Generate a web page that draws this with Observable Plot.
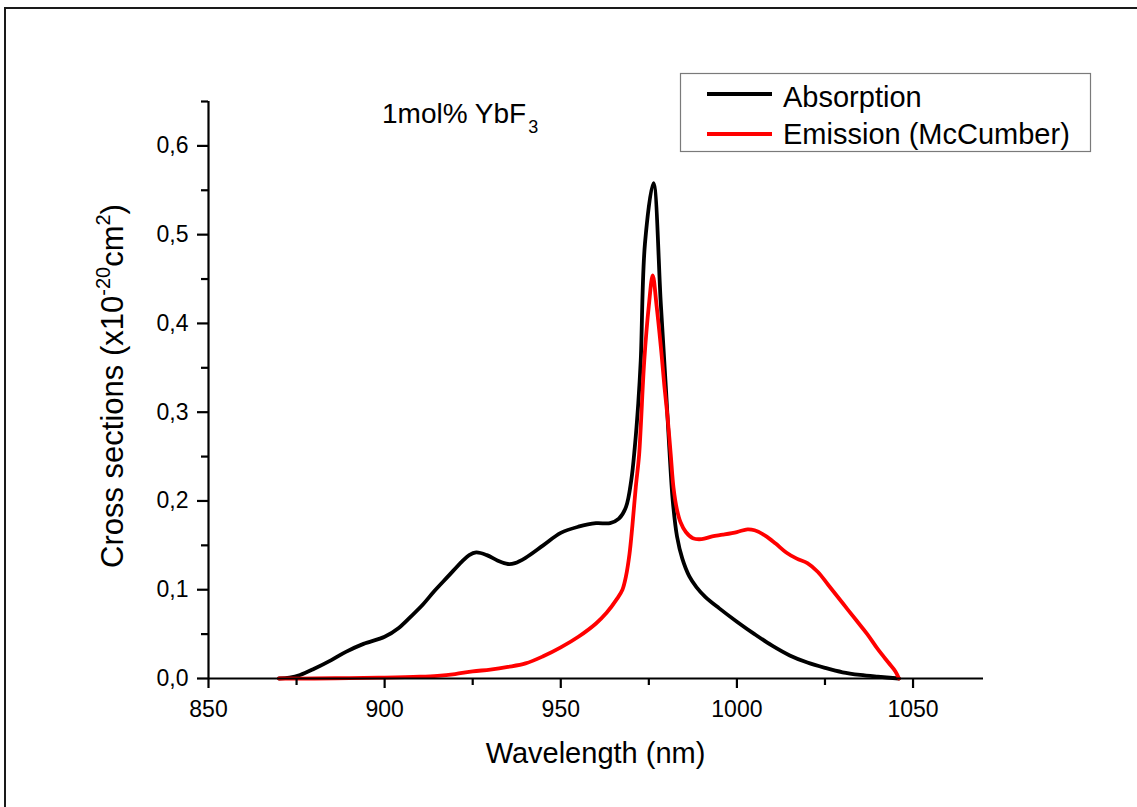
<!DOCTYPE html>
<html>
<head>
<meta charset="utf-8">
<script src="https://cdn.jsdelivr.net/npm/d3@7"></script>
<script src="https://cdn.jsdelivr.net/npm/@observablehq/plot@0.6"></script>
<style>
  html, body { margin: 0; padding: 0; background: #fff; overflow: hidden; }
  #chart { position: absolute; left: 0; top: 0; width: 1137px; height: 807px; }
</style>
</head>
<body>
<div id="chart"></div>
<script>
// ---- Data ----
const absWavelength = [870, 873, 876, 880, 885, 889, 894, 900, 904, 907.5, 911, 914, 918, 922, 924, 926, 929, 932, 935, 937, 940, 945, 950, 955, 960, 964, 966.5, 968.5, 970, 971, 972, 972.7, 973.9, 976.3, 978.4, 979.8, 980.8, 981.8, 983, 984.5, 986.5, 988.5, 991, 995, 1000, 1005, 1010, 1015, 1020, 1025, 1030, 1035, 1040, 1046];
const absValue      = [0, 0.001, 0.004, 0.011, 0.021, 0.030, 0.039, 0.047, 0.057, 0.070, 0.084, 0.098, 0.115, 0.132, 0.139, 0.142, 0.139, 0.133, 0.129, 0.130, 0.136, 0.150, 0.164, 0.171, 0.175, 0.175, 0.180, 0.193, 0.223, 0.26, 0.31, 0.358, 0.49, 0.558, 0.422, 0.330, 0.26, 0.20, 0.16, 0.135, 0.115, 0.103, 0.092, 0.079, 0.064, 0.050, 0.037, 0.026, 0.018, 0.012, 0.007, 0.004, 0.002, 0];

const emWavelength = [870, 880, 890, 900, 910, 915, 920, 925, 930, 935, 940, 945, 950, 955, 960, 963, 966, 967.5, 968.5, 969.5, 970.3, 971.3, 972.2, 972.7, 973.7, 975, 976.1, 977.2, 978.4, 979.4, 980.3, 981.2, 982, 983, 984, 985.5, 987.5, 990, 993, 996, 1000, 1003, 1005, 1008, 1011, 1014, 1017, 1020, 1023, 1026, 1030, 1034, 1037, 1040, 1043, 1045, 1046];
const emValue      = [0, 0, 0.0005, 0.001, 0.002, 0.003, 0.005, 0.008, 0.010, 0.013, 0.017, 0.025, 0.035, 0.047, 0.062, 0.074, 0.090, 0.100, 0.115, 0.140, 0.171, 0.216, 0.25, 0.283, 0.358, 0.42, 0.454, 0.42, 0.374, 0.33, 0.295, 0.253, 0.215, 0.19, 0.176, 0.165, 0.158, 0.157, 0.160, 0.162, 0.165, 0.168, 0.167, 0.161, 0.152, 0.142, 0.135, 0.130, 0.120, 0.105, 0.085, 0.065, 0.050, 0.033, 0.018, 0.008, 0];

const seriesNames = ["Absorption", "Emission (McCumber)"];
const seriesColors = ["#000000", "#ff0000"];

const xMajorTicks = [850, 900, 950, 1000, 1050];
const xMinorTicks = [875, 925, 975, 1025];
const yMajorTicks = [0, 0.1, 0.2, 0.3, 0.4, 0.5, 0.6];
const yMinorTicks = [0.05, 0.15, 0.25, 0.35, 0.45, 0.55, 0.65];

const xLabel = "Wavelength (nm)";
const annotationMain = "1mol% YbF";
const annotationSub = "3";

// ---- Build tables ----
const absData = absWavelength.map((w, i) => ({w, v: absValue[i]}));
const emData = emWavelength.map((w, i) => ({w, v: emValue[i]}));

const font = "'Liberation Sans', Arial, Helvetica, sans-serif";
const commaFmt = d => d3.format(".1f")(d).replace(".", ",");

const chart = Plot.plot({
  width: 1137,
  height: 807,
  marginLeft: 208,
  marginRight: 154,
  marginTop: 101,
  marginBottom: 129,
  x: {domain: [850, 1070]},
  y: {domain: [0, 0.65]},
  style: {fontFamily: font, fontSize: "23px", color: "#000", background: "transparent", overflow: "visible"},
  marks: [
    Plot.line(absData, {x: "w", y: "v", stroke: seriesColors[0], strokeWidth: 3.8, curve: "catmull-rom"}),
    Plot.line(emData, {x: "w", y: "v", stroke: seriesColors[1], strokeWidth: 3.8, curve: "catmull-rom"}),
    Plot.ruleY([0], {stroke: "#000", strokeWidth: 2.2}),
    Plot.ruleX([850], {stroke: "#000", strokeWidth: 2.2}),
    Plot.axisX({ticks: xMajorTicks, tickSize: 10, tickPadding: 12, strokeWidth: 2.2, tickFormat: d => String(d), label: null, fontSize: 23}),
    Plot.axisX({ticks: xMinorTicks, tickSize: 7, strokeWidth: 2.2, tickFormat: () => "", label: null}),
    Plot.axisY({ticks: yMajorTicks, tickSize: 11, tickPadding: 9, strokeWidth: 2.2, tickFormat: commaFmt, label: null, fontSize: 23}),
    Plot.axisY({ticks: yMinorTicks, tickSize: 7, strokeWidth: 2.2, tickFormat: () => "", label: null})
  ]
});

document.getElementById("chart").appendChild(chart);

const svg = d3.select(chart);

// Outer frame (right/bottom edges fall outside the picture)
svg.append("rect")
  .attr("x", 5).attr("y", 8).attr("width", 1145).attr("height", 820)
  .attr("fill", "none").attr("stroke", "#1a1a1a").attr("stroke-width", 2);

// X axis title
svg.append("text")
  .attr("x", 595.5).attr("y", 763)
  .attr("text-anchor", "middle")
  .attr("font-family", font).attr("font-size", 29).attr("fill", "#000")
  .text(xLabel);

// Y axis title with superscripts
const yt = svg.append("text")
  .attr("transform", "translate(123,386) rotate(-90)")
  .attr("text-anchor", "middle")
  .attr("font-family", font).attr("font-size", 31).attr("fill", "#000");
yt.append("tspan").text("Cross sections (x10");
yt.append("tspan").attr("font-size", 20).attr("dy", -13).text("-20");
yt.append("tspan").attr("font-size", 31).attr("dy", 13).text("cm");
yt.append("tspan").attr("font-size", 20).attr("dy", -13).text("2");
yt.append("tspan").attr("font-size", 31).attr("dy", 13).text(")");

// Annotation
const an = svg.append("text")
  .attr("x", 382).attr("y", 123)
  .attr("text-anchor", "start")
  .attr("font-family", font).attr("font-size", 28).attr("fill", "#000");
an.append("tspan").text(annotationMain);
an.append("tspan").attr("font-size", 18).attr("dy", 10).attr("dx", 2).text(annotationSub);

// Legend
const lg = svg.append("g");
lg.append("rect")
  .attr("x", 680.5).attr("y", 73.5).attr("width", 410).attr("height", 78)
  .attr("fill", "#fff").attr("stroke", "#7a7a7a").attr("stroke-width", 1.2);
const rows = [{y: 94, base: 107}, {y: 134, base: 144}];
seriesNames.forEach((name, i) => {
  lg.append("line")
    .attr("x1", 707).attr("x2", 772).attr("y1", rows[i].y).attr("y2", rows[i].y)
    .attr("stroke", seriesColors[i]).attr("stroke-width", 3.8);
  lg.append("text")
    .attr("x", 783).attr("y", rows[i].base)
    .attr("text-anchor", "start")
    .attr("font-family", font).attr("font-size", 29).attr("fill", "#000")
    .text(name);
});
</script>
</body>
</html>
